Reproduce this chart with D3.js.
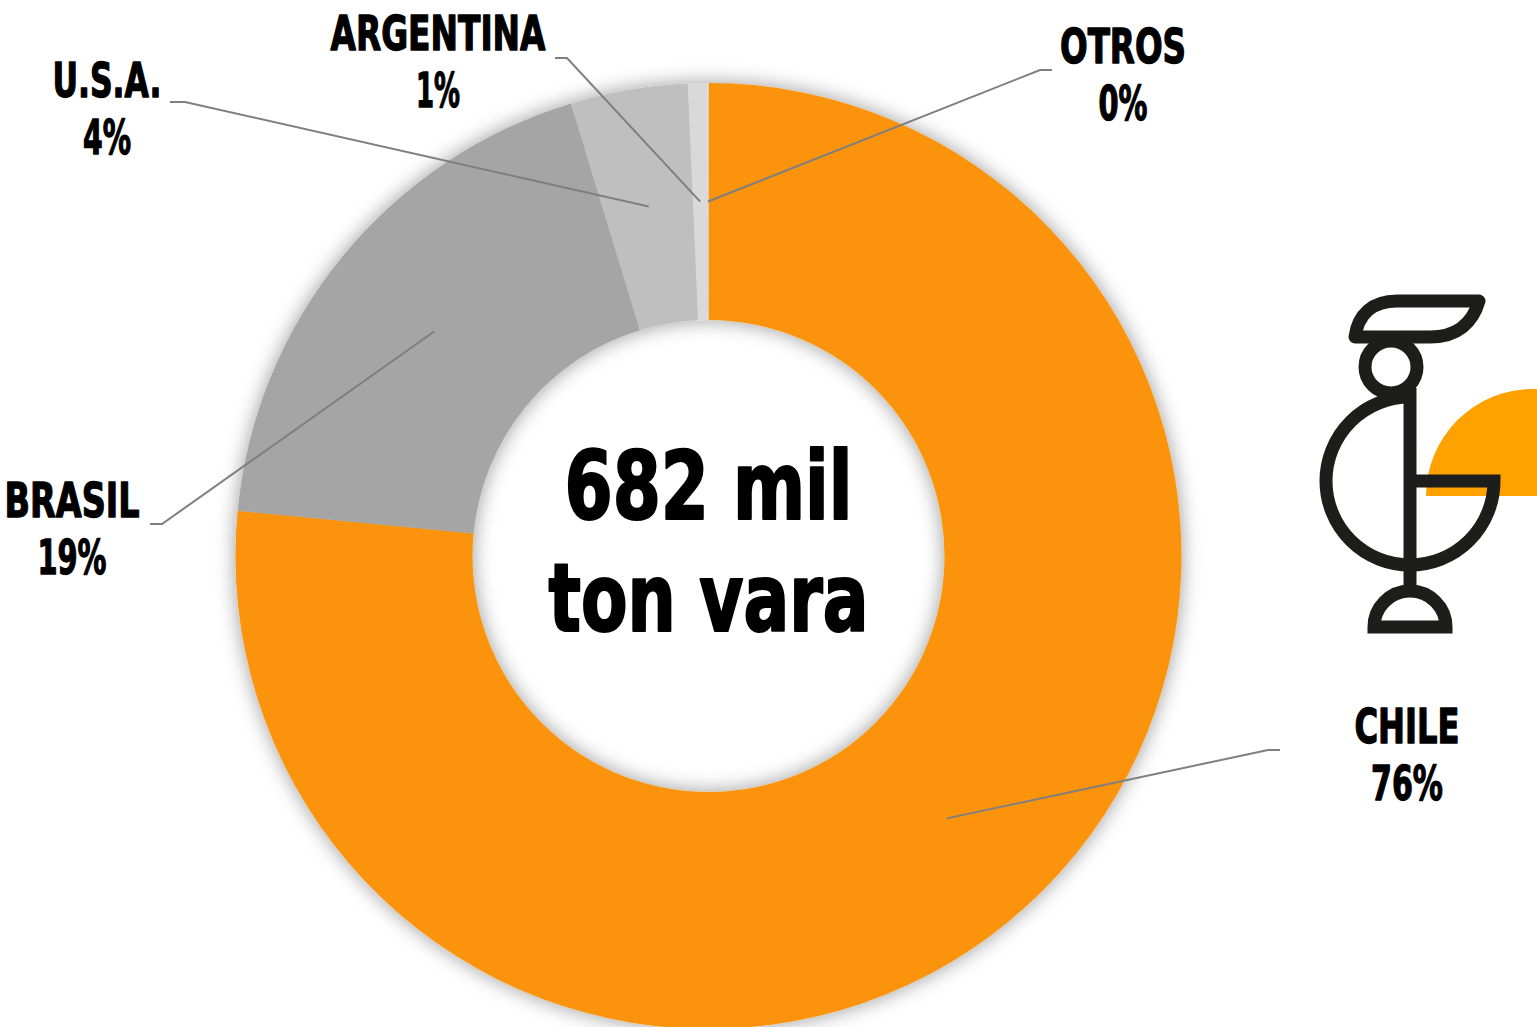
<!DOCTYPE html>
<html>
<head>
<meta charset="utf-8">
<script src="https://cdn.jsdelivr.net/npm/d3@7"></script>
<style>
  html, body { margin: 0; padding: 0; background: #fff; overflow: hidden; }
  svg { display: block; }
  .lbl { font-family: "Liberation Sans Narrow", "DejaVu Sans Condensed", "Roboto", sans-serif; font-weight: bold; fill: #000; stroke: #000; stroke-linejoin: round; }
</style>
</head>
<body>
<div id="chart"></div>
<script>
// data (share of production, %)
const countries = ["CHILE", "BRASIL", "U.S.A.", "ARGENTINA", "OTROS"];
const shares = [76.6, 18.8, 4.0, 0.65, 0.05];
const shareLabels = ["76%", "19%", "4%", "1%", "0%"];
const colors = ["#FB930A", "#A5A5A5", "#BFBFBF", "#D9D9D9", "#E4E4E4"];
const centerLines = ["682 mil", "ton vara"];

// label layout: elbow point, line end, text center x, first baseline, line widths
const labelPos = [
  { elbow: [1268, 750], end: [1280, 750], tx: 1407, ty: 743, w: [105, 72] },
  { elbow: [162, 524], end: [150, 524], tx: 72, ty: 517, w: [135, 69] },
  { elbow: [185, 102], end: [170, 102], tx: 107, ty: 97, w: [109, 48] },
  { elbow: [567, 58], end: [555, 58], tx: 438, ty: 50, w: [215, 44] },
  { elbow: [1040, 70], end: [1052, 70], tx: 1123, ty: 63, w: [126, 49] }
];
const centerW = [288, 320];

const width = 1537, height = 1027;
const cx = 708.5, cy = 556;
const outerR = 473, innerR = 236;

const svg = d3.select("#chart").append("svg")
  .attr("width", width)
  .attr("height", height);

const defs = svg.append("defs");
const shadow = defs.append("filter").attr("id", "glow")
  .attr("x", "-20%").attr("y", "-20%").attr("width", "140%").attr("height", "140%");
shadow.append("feGaussianBlur").attr("in", "SourceAlpha").attr("stdDeviation", 10).attr("result", "blur");
shadow.append("feFlood").attr("flood-color", "#000").attr("flood-opacity", 0.4).attr("result", "col");
shadow.append("feComposite").attr("in", "col").attr("in2", "blur").attr("operator", "in").attr("result", "sh");
const merge = shadow.append("feMerge");
merge.append("feMergeNode").attr("in", "sh");
merge.append("feMergeNode").attr("in", "SourceGraphic");

// logo
const logo = svg.append("g").attr("class", "logo");
logo.append("path")
  .attr("d", d3.arc()({ innerRadius: 0, outerRadius: 107, startAngle: -Math.PI / 2, endAngle: Math.PI / 2 }))
  .attr("transform", "translate(1533,496)")
  .attr("fill", "#FFA200");
const ink = logo.append("g")
  .attr("fill", "none")
  .attr("stroke", "#1d1d1b")
  .attr("stroke-width", 13)
  .attr("stroke-linejoin", "round");
// crest
ink.append("path").attr("d", "M1355,337 C1358,314 1373,301 1397,301 L1479,301 C1473,322 1458,337 1430,337 Z");
// head
ink.append("circle").attr("cx", 1391).attr("cy", 367).attr("r", 26);
// body: left half circle + lower right quarter + bar
ink.append("path").attr("d", "M1410,397 A84,84 0 0,0 1410,565 A84,84 0 0,0 1494,481 L1410,481")
  .attr("stroke-linejoin", "miter");
// stem
ink.append("path").attr("d", "M1410,388 L1410,592");
// base
ink.append("path").attr("d", "M1374,627 A36,36 0 0,1 1446,627 Z").attr("stroke-linejoin", "miter");

// donut
const pie = d3.pie().sort(null).value(d => d);
const arcs = pie(shares);
const arc = d3.arc().innerRadius(innerR).outerRadius(outerR);
const midArc = d3.arc().innerRadius((innerR + outerR) / 2).outerRadius((innerR + outerR) / 2);

const g = svg.append("g").attr("transform", `translate(${cx},${cy})`);
g.append("g").attr("filter", "url(#glow)")
  .selectAll("path").data(arcs).enter().append("path")
  .attr("d", arc)
  .attr("fill", (d, i) => colors[i]);

// leader lines
arcs.forEach((d, i) => {
  const c = midArc.centroid(d);
  const p = labelPos[i];
  const pts = [[cx + c[0], cy + c[1]], p.elbow, p.end];
  svg.append("polyline")
    .attr("points", pts.map(q => q.join(",")).join(" "))
    .attr("fill", "none")
    .attr("stroke", "#7f7f7f")
    .attr("stroke-width", 2);
});

function line(x, y, size, txt, w, sw) {
  svg.append("text").attr("class", "lbl")
    .attr("text-anchor", "middle")
    .attr("font-size", size)
    .attr("stroke-width", sw)
    .attr("x", x).attr("y", y)
    .attr("textLength", w)
    .attr("lengthAdjust", "spacingAndGlyphs")
    .text(txt);
}

// labels
countries.forEach((name, i) => {
  const p = labelPos[i];
  line(p.tx, p.ty, 48, name, p.w[0], 1.3);
  line(p.tx, p.ty + 57, 48, shareLabels[i], p.w[1], 1.3);
});

// center text
line(cx, 519, 95, centerLines[0], centerW[0], 2.2);
line(cx, 631, 95, centerLines[1], centerW[1], 2.2);
</script>
</body>
</html>
